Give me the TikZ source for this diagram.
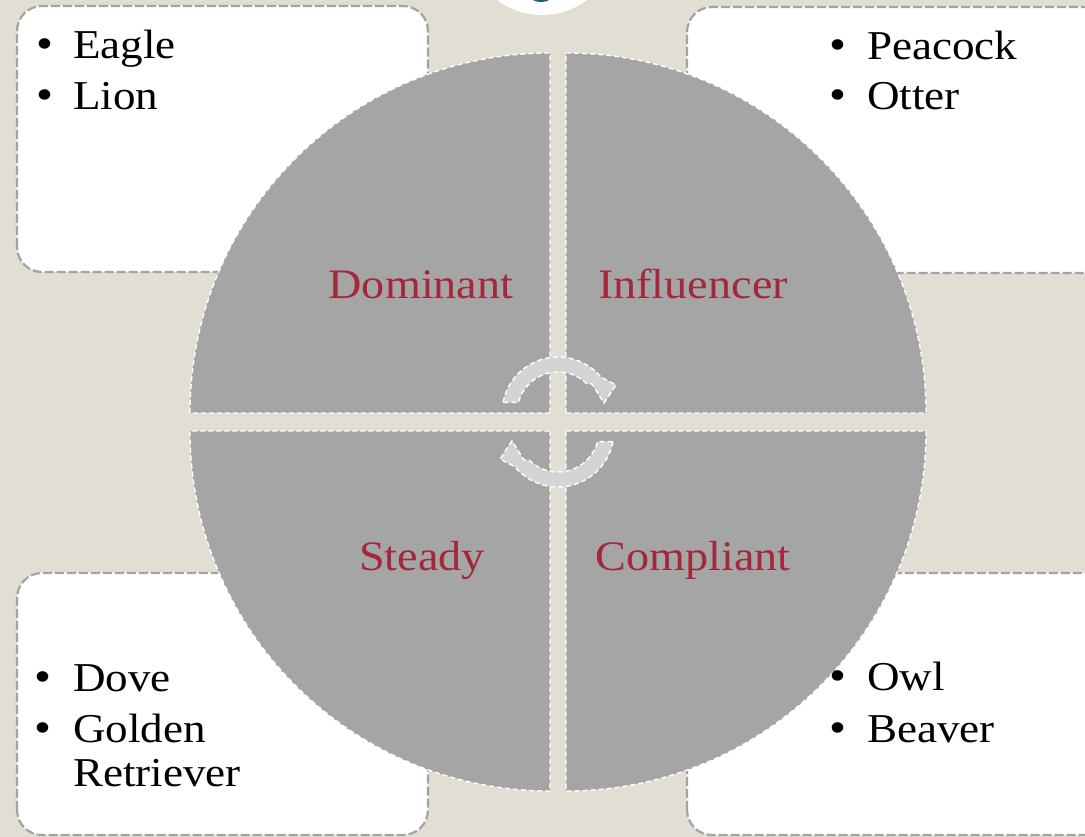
\documentclass[tikz,border=0pt]{standalone}
\usepackage{fontspec}
\setmainfont{Liberation Serif}[FakeStretch=1.1]
\definecolor{bgc}{HTML}{E3DED4}
\definecolor{quadc}{HTML}{A5A5A5}
\definecolor{arrc}{HTML}{D4D4D4}
\definecolor{boxline}{HTML}{A3A3A3}
\definecolor{labc}{HTML}{A2283A}
\definecolor{iconblue}{HTML}{1F5A85}
\tikzset{
  cardbox/.style={fill=white, draw=boxline, line width=2.2pt, dash pattern=on 9pt off 3pt, rounded corners=25pt},
  quadrant/.style={fill=quadc, draw=white, line width=1.4pt, dash pattern=on 5pt off 3pt},
  cyclearrow/.style={fill=arrc, draw=white, line width=1.4pt, dash pattern=on 5pt off 3pt},
  quadlabel/.style={text=labc, anchor=base, inner sep=0pt, font=\fontsize{42}{42}\selectfont},
  itemtext/.style={anchor=base west, inner sep=0pt, font=\fontsize{41}{44}\selectfont},
  itembullet/.style={anchor=base, inner sep=0pt, font=\fontsize{44}{44}\selectfont}
}
\begin{document}
\begin{tikzpicture}[x=1pt,y=1pt]
\useasboundingbox (0,0) rectangle (1085,837);
\clip (0,0) rectangle (1085,837);
\fill[bgc] (0,0) rectangle (1085,837);
% top icon circle
\fill[white] (542,897) circle (75);
\fill[iconblue] (541,842) ellipse (12 and 7);
% cards
\path[cardbox] (17,565) rectangle (428,831);
\path[cardbox] (687,564) rectangle (1110,830);
\path[cardbox] (17,2) rectangle (428,264);
\path[cardbox] (687,2) rectangle (1110,264);
% quadrants
\path[quadrant] (550,424) -- (190,424) arc (180:90:360) -- cycle;
\path[quadrant] (566,424) -- (566,784) arc (90:0:360) -- cycle;
\path[quadrant] (550,406) -- (550,46) arc (270:180:360) -- cycle;
\path[quadrant] (566,406) -- (926,406) arc (0:-90:360) -- cycle;
% cycle arrows
\path[cyclearrow] ([shift={(169:56)}]558,424) arc (169:40:56) -- (616,452) -- (604,434) -- (592,453)
  -- ([shift={(46:41)}]558,424) arc (46:165:41) -- cycle;
\begin{scope}[rotate around={180:(558,415)}]
\path[cyclearrow] ([shift={(169:56)}]558,424) arc (169:40:56) -- (616,452) -- (604,434) -- (592,453)
  -- ([shift={(46:41)}]558,424) arc (46:165:41) -- cycle;
\end{scope}
% quadrant labels
\node[quadlabel] (dom) at (421,538) {Dominant};
\node[quadlabel] (inf) at (693,538) {Influencer};
\node[quadlabel] (ste) at (422,266) {Steady};
\node[quadlabel] (com) at (693,266) {Compliant};
% top-left items
\node[itembullet] (b1) at (45,778) {•};
\node[itemtext] (t1) at (73,778) {Eagle};
\node[itembullet] (b2) at (45,727) {•};
\node[itemtext] (t2) at (73,727) {Lion};
% top-right items
\node[itembullet] (b3) at (838,777) {•};
\node[itemtext] (t3) at (867,777) {Peacock};
\node[itembullet] (b4) at (838,727) {•};
\node[itemtext] (t4) at (867,727) {Otter};
% bottom-left items
\node[itembullet] (b5) at (43,145) {•};
\node[itemtext] (t5) at (73,145) {Dove};
\node[itembullet] (b6) at (43,94) {•};
\node[itemtext] (t6) at (73,94) {Golden};
\node[itemtext] (t7) at (73,50) {Retriever};
% bottom-right items
\node[itembullet] (b8) at (838,146) {•};
\node[itemtext] (t8) at (867,146) {Owl};
\node[itembullet] (b9) at (838,94) {•};
\node[itemtext] (t9) at (867,94) {Beaver};
\end{tikzpicture}
\end{document}
